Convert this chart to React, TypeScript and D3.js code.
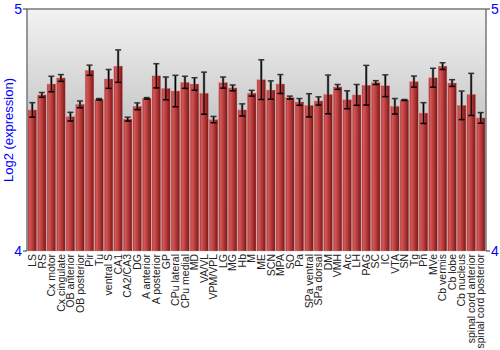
import React from "react";
import * as d3 from "d3";

const categories = ["LS","RS","Cx motor","Cx cingulate","OB anterior","OB posterior","Pir","Tu","ventral S","CA1","CA2/CA3","DG","A anterior","A posterior","GP","CPu lateral","CPu medial","MD","VA/VL","VPM/VPL","LG","MG","Hb","M","ME","SCN","MPA","SO","Pa","SPa ventral","SPa dorsal","DM","VMH","Arc","LH","PAG","SC","IC","VTA","SN","Tg","Pn","MVe","Cb vermis","Cb lobe","Cb nucleus","spinal cord anterior","spinal cord posterior"];

const means = [4.583,4.645,4.690,4.715,4.555,4.606,4.747,4.627,4.711,4.764,4.545,4.598,4.631,4.724,4.672,4.661,4.697,4.690,4.652,4.543,4.696,4.674,4.583,4.652,4.708,4.665,4.690,4.634,4.616,4.602,4.620,4.647,4.678,4.625,4.645,4.685,4.696,4.683,4.598,4.624,4.700,4.570,4.716,4.764,4.694,4.602,4.647,4.550];

const errors = [0.030,0.010,0.032,0.014,0.018,0.014,0.021,0.003,0.039,0.067,0.008,0.014,0.003,0.050,0.047,0.065,0.025,0.026,0.087,0.013,0.023,0.012,0.025,0.012,0.082,0.038,0.039,0.006,0.014,0.048,0.017,0.080,0.010,0.037,0.043,0.082,0.008,0.045,0.032,0.002,0.023,0.043,0.039,0.014,0.014,0.059,0.087,0.022];

const yTicks = [4, 5];

export default function App() {
  const W = 500, H = 350;
  const left = 27, right = 486, top = 9, bottom = 251;
  const x = d3.scaleBand<string>().domain(categories).range([left + 0.5, right - 0.5]).paddingInner(0.1).paddingOuter(0.05);
  const y = d3.scaleLinear().domain([4, 5]).range([bottom, top]);
  const bw = x.bandwidth();
  const font = "'Liberation Sans', Arial, sans-serif";
  return (
    <svg width={W} height={H} style={{ position: "absolute", left: 0, top: 0, background: "#fff" }}>
      <defs>
        <linearGradient id="bg" x1="0" y1="0" x2="0" y2="1">
          <stop offset="0" stopColor="#f3f3f3" />
          <stop offset="0.45" stopColor="#c9c9c9" />
          <stop offset="1" stopColor="#c4c4c4" />
        </linearGradient>
        <linearGradient id="bar" x1="0" y1="0" x2="1" y2="0">
          <stop offset="0" stopColor="#a83434" />
          <stop offset="0.2" stopColor="#d35757" />
          <stop offset="0.55" stopColor="#b53a3a" />
          <stop offset="1" stopColor="#7a1616" />
        </linearGradient>
      </defs>
      <rect x={left} y={top} width={right - left} height={bottom - top} fill="url(#bg)" />
      {categories.map((c, i) => {
        const bx = x(c)!;
        const by = y(means[i]);
        const cx = bx + bw / 2;
        const eTop = y(means[i] + errors[i]);
        const eBot = y(means[i] - errors[i]);
        return (
          <g key={c}>
            <rect x={bx} y={by} width={bw} height={bottom - by} fill="url(#bar)" stroke="#d98a8a" strokeOpacity={0.5} strokeWidth={0.6} />
            <line x1={cx} x2={cx} y1={eTop} y2={by} stroke="#555" strokeOpacity={0.7} strokeWidth={2.5} />
            <line x1={cx} x2={cx} y1={eTop} y2={eBot} stroke="#000" strokeWidth={1.2} />
            <line x1={cx - 3} x2={cx + 3} y1={eTop} y2={eTop} stroke="#333" strokeWidth={1.5} />
            <line x1={cx - 3} x2={cx + 3} y1={eBot} y2={eBot} stroke="#000" strokeWidth={1.5} />
          </g>
        );
      })}
      <line x1={left} x2={left} y1={top} y2={bottom} stroke="#777" strokeWidth={1.5} />
      <line x1={right} x2={right} y1={top} y2={bottom} stroke="#777" strokeWidth={1.5} />
      <line x1={left} x2={right} y1={top} y2={top} stroke="#777" strokeWidth={1.5} />
      {yTicks.map((t) => (
        <g key={t}>
          <line x1={left - 4} x2={left} y1={y(t)} y2={y(t)} stroke="#333" />
          <line x1={right} x2={right + 4} y1={y(t)} y2={y(t)} stroke="#333" />
          <text x={left - 5} y={y(t)} dy="0.35em" textAnchor="end" fill="#0000ff" fontSize={14} fontFamily={font}>{t}</text>
          <text x={right + 5} y={y(t)} dy="0.35em" textAnchor="start" fill="#0000ff" fontSize={14} fontFamily={font}>{t}</text>
        </g>
      ))}
      <text transform={`translate(13,${(top + bottom) / 2}) rotate(-90)`} textAnchor="middle" fill="#0000ff" fontSize={13} fontFamily={font}>Log2 (expression)</text>
      {categories.map((c) => (
        <text key={c} transform={`translate(${x(c)! + bw / 2},${bottom + 3}) rotate(-90)`} dy="0.35em" textAnchor="end" fill="#222" fontSize={10.5} fontFamily={font}>{c}</text>
      ))}
    </svg>
  );
}
